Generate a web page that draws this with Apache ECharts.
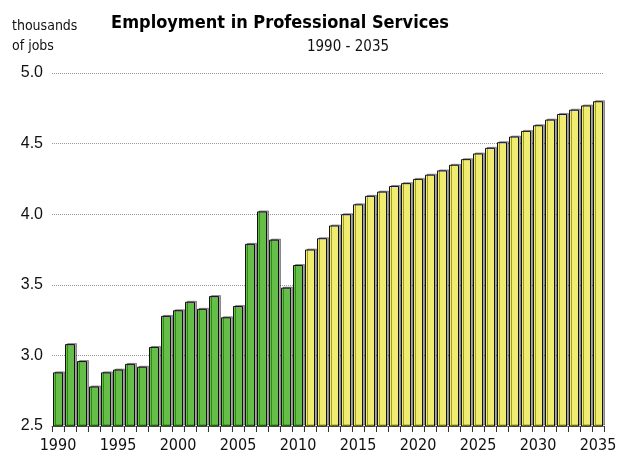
<!DOCTYPE html>
<html>
<head>
<meta charset="utf-8">
<script src="https://cdn.jsdelivr.net/npm/echarts@6/dist/echarts.min.js"></script>
<style>
html,body{margin:0;padding:0;background:#fff;}
#chart{width:626px;height:456px;}
</style>
</head>
<body>
<div id="chart"></div>
<script>
// Years 1990-2035
var years = [];
for (var y = 1990; y <= 2035; y++) years.push(String(y));

// Historical values (1990-2010), thousands of jobs
var historical = [2.88, 3.08, 2.96, 2.78, 2.88, 2.90, 2.94, 2.92, 3.06, 3.28,
                  3.32, 3.38, 3.33, 3.42, 3.27, 3.35, 3.79, 4.02, 3.82, 3.48, 3.64];
// Projected values (2011-2035)
var projected = [3.75, 3.83, 3.92, 4.00, 4.07, 4.13, 4.16, 4.20, 4.22, 4.25,
                 4.28, 4.31, 4.35, 4.39, 4.43, 4.47, 4.51, 4.55, 4.59, 4.63,
                 4.67, 4.71, 4.74, 4.77, 4.80];

var yTicks = [2.5, 3.0, 3.5, 4.0, 4.5, 5.0];

var GREEN = '#65BE48';
var YELLOW = '#F0EC72';
var COND = "'DejaVu Sans Condensed', 'Liberation Sans', sans-serif";

var data = [];
historical.forEach(function (v) { data.push({ value: v, itemStyle: { color: GREEN } }); });
projected.forEach(function (v) { data.push({ value: v, itemStyle: { color: YELLOW } }); });

var chart = echarts.init(document.getElementById('chart'), null, { renderer: 'canvas' });
chart.setOption({
  animation: false,
  backgroundColor: '#fff',
  title: [
    { text: 'Employment in Professional Services', left: 280, top: 14, textAlign: 'center', padding: 0,
      textStyle: { fontFamily: COND, fontWeight: 'bold', fontSize: 18, color: '#000' } },
    { text: '1990 - 2035', left: 348, top: 40, textAlign: 'center', padding: 0,
      textStyle: { fontFamily: COND, fontWeight: 'normal', fontSize: 15, color: '#111' } },
    { text: 'thousands\nof jobs', left: 12, top: 16, padding: 0,
      textStyle: { fontFamily: COND, fontWeight: 'normal', fontSize: 14, lineHeight: 20, color: '#111' } }
  ],
  grid: { left: 52, right: 22, top: 73, bottom: 30, containLabel: false },
  xAxis: {
    type: 'category',
    data: years,
    boundaryGap: true,
    axisLine: { show: true, lineStyle: { color: '#777', width: 1 } },
    axisTick: { show: true, interval: 0, length: 6, lineStyle: { color: '#333' } },
    axisLabel: { interval: 4, color: '#111', fontFamily: COND, fontSize: 16, margin: 12 },
    splitLine: { show: false }
  },
  yAxis: {
    type: 'value',
    min: yTicks[0],
    max: yTicks[yTicks.length - 1],
    interval: 0.5,
    axisLine: { show: false },
    axisTick: { show: false },
    axisLabel: { color: '#111', fontFamily: 'Liberation Sans', fontSize: 16, margin: 9,
      formatter: function (v) { return v.toFixed(1); } },
    splitLine: { show: true, lineStyle: { color: '#999', type: 'dotted', width: 1 } }
  },
  series: [{
    type: 'bar',
    data: data,
    barWidth: 10,
    itemStyle: {
      borderColor: '#111',
      borderWidth: 1,
      shadowColor: 'rgba(0,0,0,0.35)',
      shadowBlur: 0,
      shadowOffsetX: 2,
      shadowOffsetY: -1
    }
  }]
});
</script>
</body>
</html>
